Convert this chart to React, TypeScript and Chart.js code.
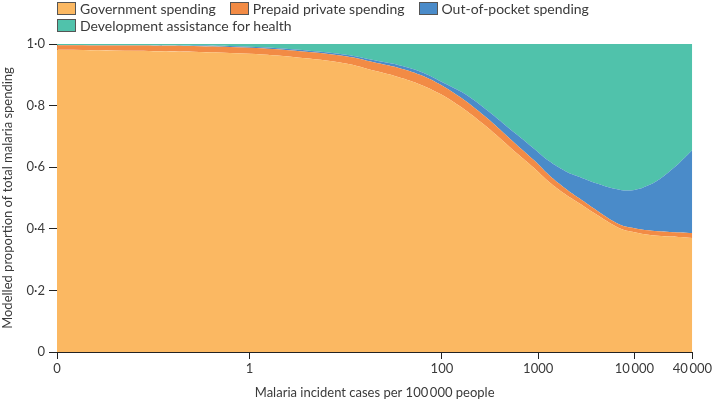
import React, { useEffect, useRef } from "react";
import { Chart, registerables } from "chart.js";
Chart.register(...registerables);

const incidence = [0.01, 0.05, 0.3, 1, 3, 10, 20, 35, 60, 100, 150, 200, 300, 450, 600, 900, 1300, 1900, 2700, 4000, 7000, 10000, 14000, 19000, 25000, 30000, 40000];
const government = [0.981, 0.978, 0.974, 0.968, 0.957, 0.937, 0.913, 0.893, 0.868, 0.835, 0.8, 0.772, 0.728, 0.68, 0.645, 0.598, 0.552, 0.513, 0.482, 0.447, 0.402, 0.389, 0.381, 0.377, 0.375, 0.373, 0.37];
const prepaid = [0.015, 0.017, 0.019, 0.02, 0.021, 0.023, 0.027, 0.03, 0.031, 0.03, 0.03, 0.03, 0.029, 0.028, 0.027, 0.025, 0.022, 0.019, 0.016, 0.014, 0.012, 0.013, 0.014, 0.014, 0.014, 0.015, 0.016];
const outOfPocket = [0.001, 0.001, 0.002, 0.003, 0.004, 0.005, 0.007, 0.009, 0.011, 0.012, 0.019, 0.023, 0.026, 0.03, 0.034, 0.038, 0.046, 0.056, 0.07, 0.087, 0.113, 0.124, 0.146, 0.174, 0.206, 0.229, 0.27];
const assistance = [0.003, 0.004, 0.005, 0.009, 0.018, 0.035, 0.053, 0.068, 0.09, 0.123, 0.151, 0.175, 0.217, 0.262, 0.294, 0.339, 0.38, 0.412, 0.432, 0.452, 0.473, 0.474, 0.459, 0.435, 0.405, 0.383, 0.344];

const xTickValues = [0.01, 1, 100, 1000, 10000, 40000];
const xTickLabels = ["0", "1", "100", "1000", "10\u2009000", "40\u2009000"];

const seriesNames = ["Government spending", "Prepaid private spending", "Out-of-pocket spending", "Development assistance for health"];
const seriesColors = ["#FBB862", "#F28B45", "#4A8BC9", "#50C2AB"];

const FONT = "Lato, 'Open Sans', sans-serif";
const TEXT = "#3a3a3a";

export default function App() {
  const ref = useRef<HTMLCanvasElement>(null);
  useEffect(() => {
    if (!ref.current) return;
    const seriesValues = [government, prepaid, outOfPocket, assistance];
    const chart = new Chart(ref.current, {
      type: "line",
      data: {
        datasets: seriesValues.map((vals, i) => ({
          label: seriesNames[i],
          data: vals.map((y, j) => ({ x: incidence[j], y })),
          backgroundColor: seriesColors[i],
          borderColor: seriesColors[i],
          borderWidth: 0,
          pointRadius: 0,
          fill: i === 0 ? "origin" : "-1",
          tension: 0.4,
        })),
      },
      options: {
        animation: false,
        responsive: false,
        maintainAspectRatio: false,
        layout: { padding: { top: 44, right: 21, left: 0, bottom: 0 } },
        plugins: { legend: { display: false }, tooltip: { enabled: false } },
        scales: {
          x: {
            type: "logarithmic",
            min: 0.01,
            max: 40000,
            afterBuildTicks: (scale: any) => {
              scale.ticks = xTickValues.map((v) => ({ value: v }));
            },
            afterFit: (scale: any) => {
              scale.height = 49;
            },
            ticks: {
              autoSkip: false,
              maxRotation: 0,
              color: TEXT,
              font: { family: FONT, size: 13 },
              padding: 2,
              callback: (v: any) => {
                const idx = xTickValues.findIndex((t) => Math.abs(t - Number(v)) / t < 1e-6);
                return idx >= 0 ? xTickLabels[idx] : "";
              },
            },
            grid: { drawOnChartArea: false, drawTicks: true, tickLength: 7, color: "#222" },
            border: { display: true, color: "#222", width: 1 },
            title: {
              display: true,
              text: "Malaria incident cases per 100\u2009000 people",
              color: TEXT,
              font: { family: FONT, size: 13 },
              padding: { top: 4, bottom: 0 },
            },
          },
          y: {
            type: "linear",
            stacked: true,
            min: 0,
            max: 1,
            afterFit: (scale: any) => {
              scale.width = 57;
            },
            ticks: {
              stepSize: 0.2,
              color: TEXT,
              font: { family: FONT, size: 13 },
              padding: 4,
              callback: (v: any) => (Number(v) === 0 ? "0" : Number(v).toFixed(1).replace(".", "\u00B7")),
            },
            grid: { drawOnChartArea: false, drawTicks: true, tickLength: 8, color: "#222" },
            border: { display: true, color: "#222", width: 1 },
            title: {
              display: true,
              text: "Modelled proportion of total malaria spending",
              color: TEXT,
              font: { family: FONT, size: 13 },
              padding: { top: 0, bottom: 2 },
            },
          },
        },
      },
    } as any);
    return () => chart.destroy();
  }, []);

  const legendItem = (i: number) => (
    <div key={i} style={{ display: "flex", alignItems: "center", marginRight: 14 }}>
      <span
        style={{
          display: "inline-block",
          width: 17,
          height: 11,
          background: seriesColors[i],
          border: "1px solid #555",
          marginRight: 4,
        }}
      />
      <span>{seriesNames[i]}</span>
    </div>
  );

  return (
    <div style={{ position: "fixed", left: 0, top: 0, width: 714, height: 401, background: "#fff" }}>
      <canvas ref={ref} width={714} height={401} style={{ position: "absolute", left: 0, top: 0 }} />
      <div
        style={{
          position: "absolute",
          left: 57,
          top: 0,
          fontFamily: FONT,
          fontSize: 14,
          color: TEXT,
          lineHeight: "17px",
        }}
      >
        <div style={{ display: "flex" }}>{[0, 1, 2].map((i) => legendItem(i))}</div>
        <div style={{ display: "flex" }}>{legendItem(3)}</div>
      </div>
    </div>
  );
}
